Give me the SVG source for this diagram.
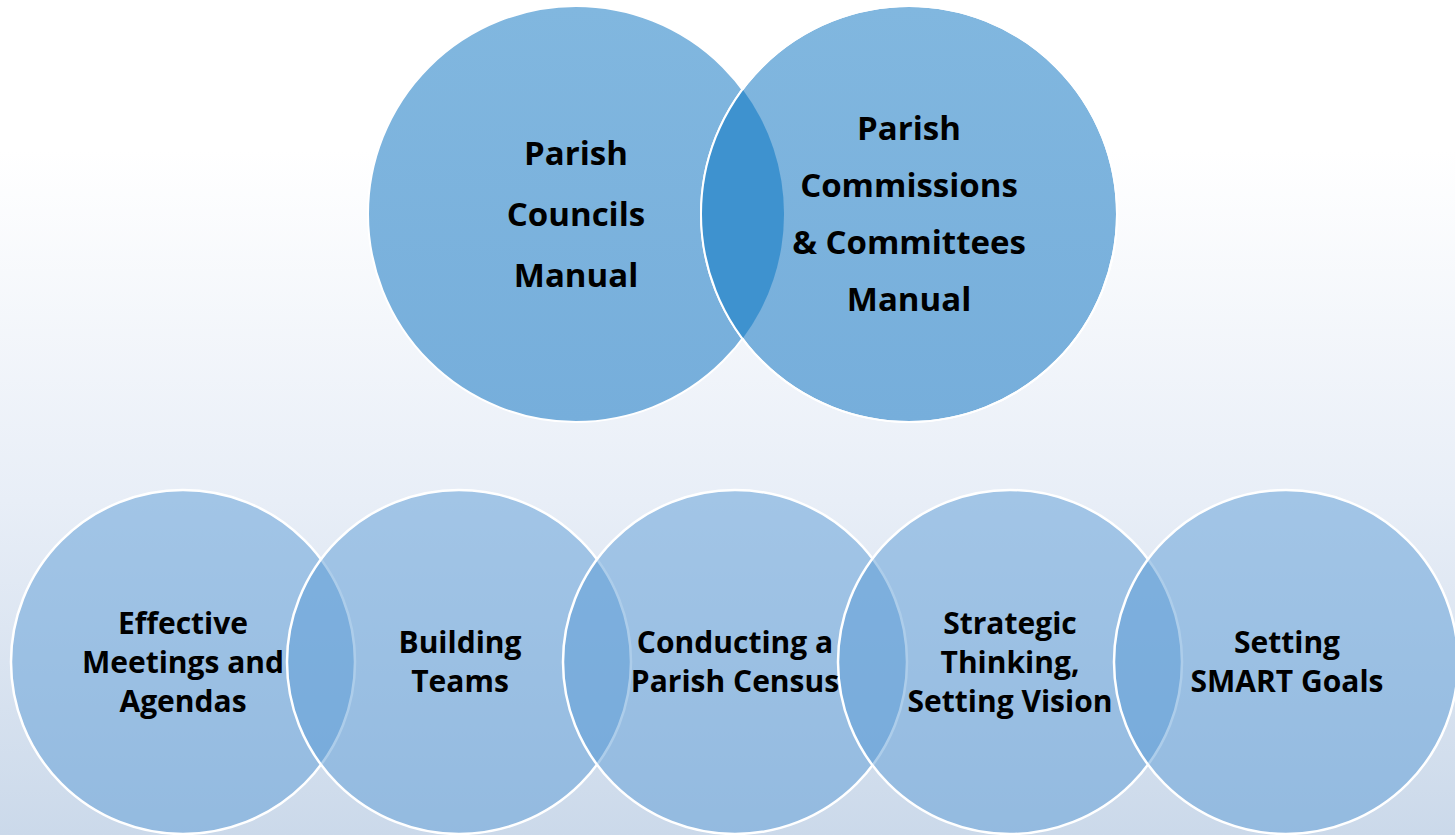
<svg xmlns="http://www.w3.org/2000/svg" width="1455" height="835" viewBox="0 0 1455 835">
  <defs>
    <linearGradient id="bg" x1="0" y1="0" x2="0" y2="1">
      <stop offset="0" stop-color="#ffffff"/>
      <stop offset="0.18" stop-color="#ffffff"/>
      <stop offset="0.6" stop-color="#e8eef7"/>
      <stop offset="1" stop-color="#cbd9ea"/>
    </linearGradient>
    <linearGradient id="topfill" x1="0" y1="0" x2="0" y2="1">
      <stop offset="0" stop-color="#81b7df"/>
      <stop offset="1" stop-color="#76aedb"/>
    </linearGradient>
    <style>
      .top { fill: url(#topfill); stroke: #ffffff; stroke-width: 2; }
      .lens { fill: #3e92cf; }
      .bot { fill: #5b9bd5; fill-opacity: 0.5; stroke: #ffffff; stroke-width: 2.5; }
      .t { font-family: "Open Sans", "Liberation Sans", sans-serif; font-weight: bold; fill: #000000; text-anchor: middle; }
      .big { font-size: 33px; }
      .small { font-size: 30px; }
    </style>
  </defs>
  <rect x="0" y="0" width="1455" height="835" fill="url(#bg)"/>

  <g id="connectors"></g>

  <g id="parish-councils-manual">
    <circle class="top" cx="576" cy="214" r="208"/>
    <text class="t big" x="576" y="165">Parish</text>
    <text class="t big" x="576" y="226">Councils</text>
    <text class="t big" x="576" y="287">Manual</text>
  </g>

  <g id="parish-commissions-manual">
    <circle class="top" cx="909" cy="214" r="208"/>
    <path class="lens" d="M742.5,89.3 A208,208 0 0,1 742.5,338.7 A208,208 0 0,1 742.5,89.3 Z"/>
    <circle cx="909" cy="214" r="208" fill="none" stroke="#ffffff" stroke-width="2"/>
    <text class="t big" x="909" y="140">Parish</text>
    <text class="t big" x="909" y="197">Commissions</text>
    <text class="t big" x="909" y="254">&amp; Committees</text>
    <text class="t big" x="909" y="311">Manual</text>
  </g>

  <g id="effective-meetings">
    <circle class="bot" cx="183" cy="662" r="172"/>
  </g>
  <g id="building-teams">
    <circle class="bot" cx="459" cy="662" r="172"/>
  </g>
  <g id="parish-census">
    <circle class="bot" cx="735" cy="662" r="172"/>
  </g>
  <g id="strategic-thinking">
    <circle class="bot" cx="1010" cy="662" r="172"/>
  </g>
  <g id="smart-goals">
    <circle class="bot" cx="1286" cy="662" r="172"/>
  </g>

  <g id="labels">
    <text class="t small" x="183" y="634">Effective</text>
    <text class="t small" x="183" y="673">Meetings and</text>
    <text class="t small" x="183" y="712">Agendas</text>

    <text class="t small" x="460" y="653">Building</text>
    <text class="t small" x="460" y="692">Teams</text>

    <text class="t small" x="735" y="653">Conducting a</text>
    <text class="t small" x="735" y="692">Parish Census</text>

    <text class="t small" x="1010" y="634">Strategic</text>
    <text class="t small" x="1010" y="673">Thinking,</text>
    <text class="t small" x="1010" y="712">Setting Vision</text>

    <text class="t small" x="1287" y="653">Setting</text>
    <text class="t small" x="1287" y="692">SMART Goals</text>
  </g>
</svg>
